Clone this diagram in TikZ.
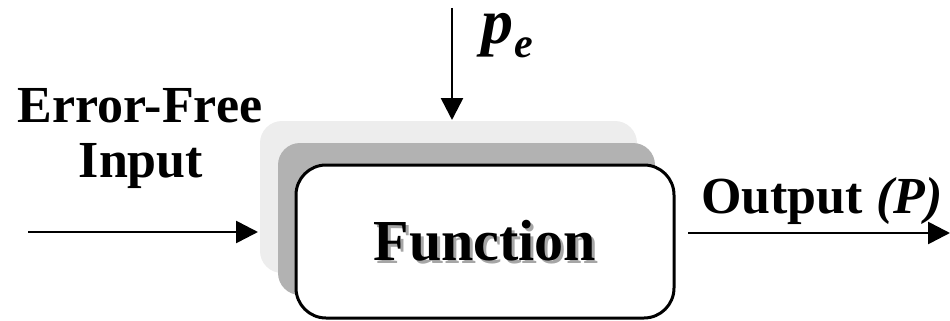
\documentclass[tikz,border=0pt]{standalone}
\usepackage{fontspec}
\setmainfont{Liberation Serif}
\usetikzlibrary{arrows.meta,calc}
\begin{document}
\begin{tikzpicture}[x=1pt,y=-1pt,
  arr/.style={line width=2.6pt,-{Triangle[length=22pt,width=22pt]}},
  lbl/.style={font=\fontsize{52}{56}\selectfont\bfseries,inner sep=0pt,align=center},
  layer/.style={rounded corners=22pt,minimum width=377pt,minimum height=152pt,inner sep=0pt}]
\useasboundingbox (0,0) rectangle (950,321);
\node[layer,fill=black!7] (light) at (448.5,197) {};
\node[layer,fill=black!30] (mid) at (466.5,219) {};
\node[layer,draw=black,fill=white,line width=3pt,rounded corners=30pt,minimum width=378pt,minimum height=153pt] (main) at (485,241.5) {};
\node[font=\fontsize{58}{60}\selectfont\bfseries,text=black!35,inner sep=0pt] (fshadow) at (488,244) {Function};
\node[font=\fontsize{58}{60}\selectfont\bfseries,inner sep=0pt] (ftext) at (485,241) {Function};
% input
\node[lbl,anchor=base] (err) at (140,122) {Error-Free};
\node[lbl,anchor=base] (inp) at (141,177) {Input};
\coordinate (inS) at (28,232);
\coordinate (inE) at (258,232);
\draw[arr] (inS) -- (inE);
% output
\node[lbl,anchor=base west] (outl) at (701,213) {Output \textit{(P)}};
\coordinate (outS) at (688,233);
\coordinate (outE) at (950,233);
\draw[arr] (outS) -- (outE);
% pe
\coordinate (peS) at (452,8);
\coordinate (peE) at (452,120);
\draw[arr] (peS) -- (peE);
\node[font=\fontsize{64}{66}\selectfont\bfseries\itshape,inner sep=0pt,anchor=base west] (pe) at (481,44) {p\kern1pt\raisebox{-14pt}{\fontsize{42}{44}\selectfont e}};
\end{tikzpicture}
\end{document}
